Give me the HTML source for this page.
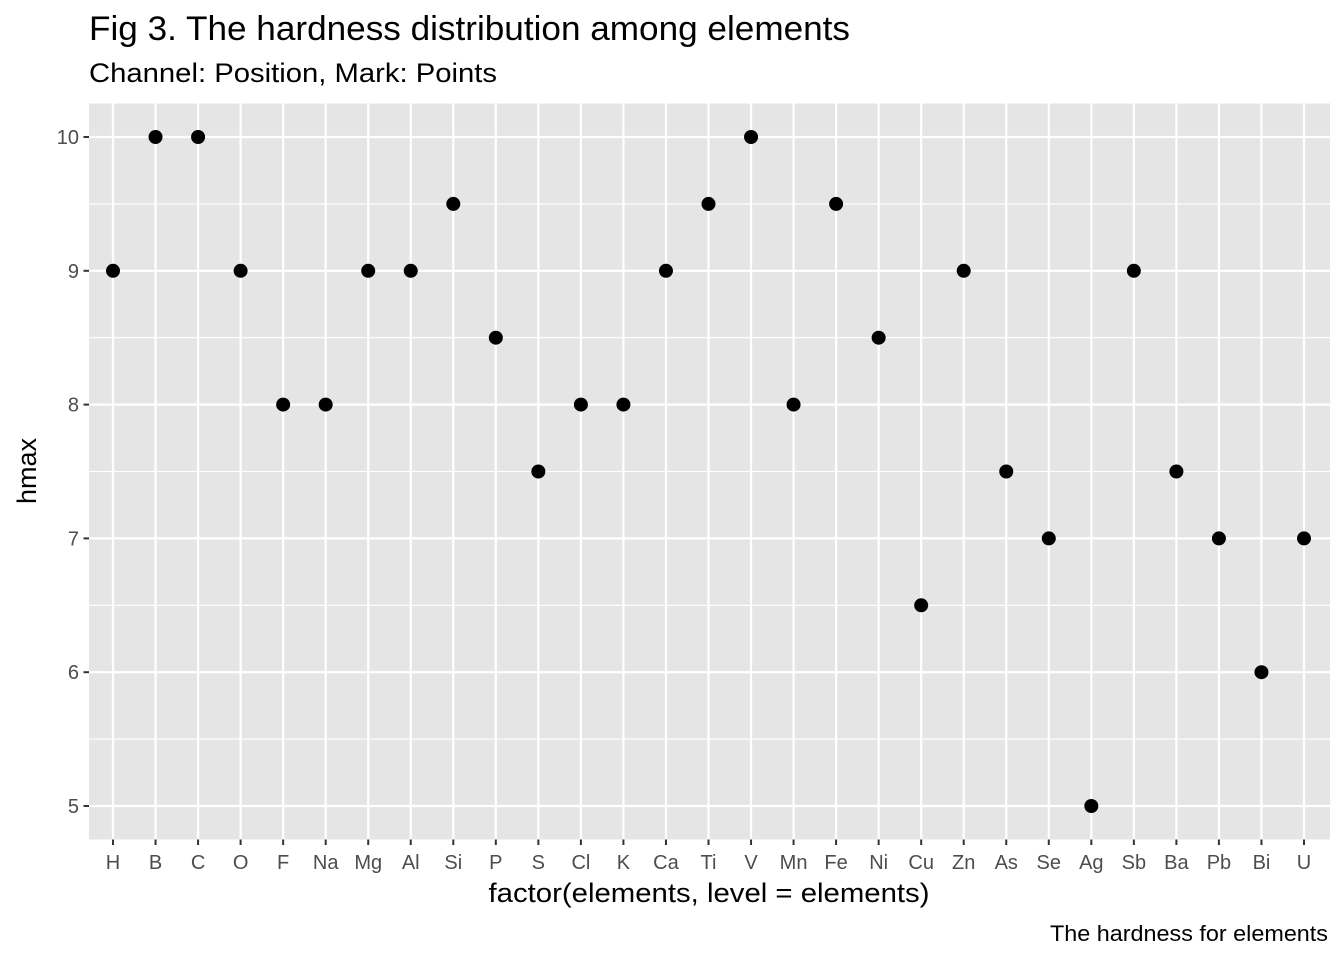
<!DOCTYPE html>
<html><head><meta charset="utf-8"><style>
body{margin:0;background:#fff;font-family:"Liberation Sans",sans-serif;}
</style></head><body>
<svg id="chart" width="1344" height="960" xmlns="http://www.w3.org/2000/svg" font-family="Liberation Sans, sans-serif">
<text x="89" y="40" font-size="34" textLength="761" lengthAdjust="spacingAndGlyphs" fill="#000">Fig 3. The hardness distribution among elements</text>
<text x="89" y="82" font-size="27" textLength="408" lengthAdjust="spacingAndGlyphs" fill="#000">Channel: Position, Mark: Points</text>
<rect x="89" y="103.5" width="1241" height="736" fill="#e5e5e5"/>
<g id="grid"></g><g id="pts"></g><g id="axes"></g>
<text x="709" y="902" font-size="27" textLength="441" lengthAdjust="spacingAndGlyphs" text-anchor="middle" fill="#000">factor(elements, level = elements)</text>
<text transform="translate(36,471) rotate(-90)" font-size="27" text-anchor="middle" fill="#000">hmax</text>
<text x="1328" y="941" font-size="22" textLength="278" lengthAdjust="spacingAndGlyphs" text-anchor="end" fill="#000">The hardness for elements</text>
</svg>
<script>
const categories=["H","B","C","O","F","Na","Mg","Al","Si","P","S","Cl","K","Ca","Ti","V","Mn","Fe","Ni","Cu","Zn","As","Se","Ag","Sb","Ba","Pb","Bi","U"];
const hmax=[9,10,10,9,8,8,9,9,9.5,8.5,7.5,8,8,9,9.5,10,8,9.5,8.5,6.5,9,7.5,7,5,9,7.5,7,6,7];
const yTicks=[5,6,7,8,9,10];
const NS="http://www.w3.org/2000/svg";
const x=i=>113+i*(1304-113)/(categories.length-1);
const y=v=>806-(v-5)*(806-137)/5;
function mk(tag,attrs,parent){const e=document.createElementNS(NS,tag);for(const k in attrs)e.setAttribute(k,attrs[k]);document.getElementById(parent).appendChild(e);return e;}
for(let t=4.5;t<=10.5;t+=0.5){const yy=y(t);if(yy<104||yy>839)continue;const major=Number.isInteger(t);
const l=mk("line",{x1:89,x2:1330,y1:yy,y2:yy,stroke:"#fff","stroke-width":major?2.2:1.1},"grid");

}
categories.forEach((c,i)=>{const l=mk("line",{x1:x(i),x2:x(i),y1:103.5,y2:839.5,stroke:"#fff","stroke-width":2.2},"grid");


const tk=mk("line",{x1:x(i),x2:x(i),y1:839.5,y2:845,stroke:"#333","stroke-width":2},"axes");


const t=mk("text",{x:x(i),y:869,"font-size":20,"text-anchor":"middle",fill:"#4d4d4d"},"axes");t.textContent=c;


const p=mk("circle",{cx:x(i),cy:y(hmax[i]),r:7,fill:"#000"},"pts");

});
yTicks.forEach(v=>{const tk=mk("line",{x1:83.5,x2:89,y1:y(v),y2:y(v),stroke:"#333","stroke-width":2},"axes");


const t=mk("text",{x:79,y:y(v)+7,"font-size":20,"text-anchor":"end",fill:"#4d4d4d"},"axes");t.textContent=v;

});
</script>
</body></html>
